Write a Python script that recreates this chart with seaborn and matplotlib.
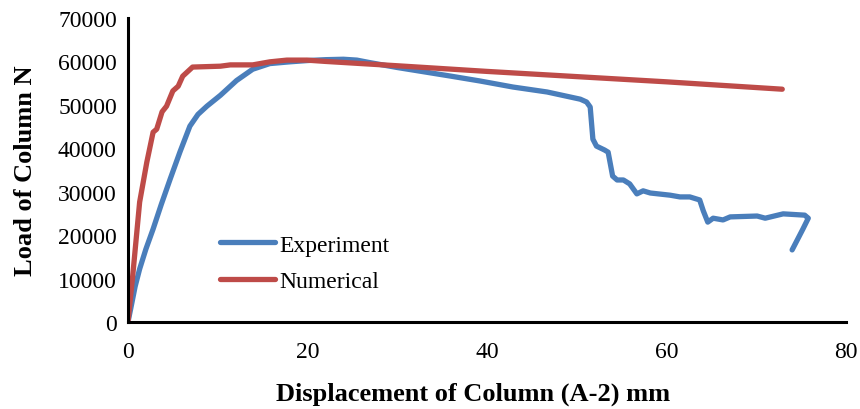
import matplotlib
matplotlib.use("Agg")
import matplotlib.pyplot as plt
import seaborn as sns
import pandas as pd

exp_x = [0, 0.3, 0.8, 1.3, 2.0, 2.8, 3.7, 4.7, 5.8, 6.9, 7.8, 8.8, 10.3, 12.1, 13.9, 15.8, 18,
         20, 22, 24, 25.5, 27, 30, 33, 36, 39.2, 42.9, 46.7, 50.4, 51.1, 51.5, 51.8, 52.2,
         53.1, 53.5, 54.0, 54.5, 55.2, 55.9, 56.7, 57.4, 58.2, 60.4, 61.5, 62.6, 63.7,
         64.1, 64.6, 65.2, 66.3, 67.1, 70.1, 71.0, 73.0, 75.4, 75.8, 75.2, 74.0]
exp_y = [0, 3000, 8200, 12200, 16800, 21400, 27000, 32900, 39200, 45100, 47800, 49700,
         52200, 55600, 58200, 59500, 59900, 60200, 60400, 60500, 60300, 59700, 58600,
         57600, 56600, 55500, 54100, 52960, 51300, 50650, 49500, 42100, 40500, 39600,
         39100, 33600, 32700, 32700, 31800, 29500, 30200, 29700, 29200, 28800, 28800,
         28100, 25600, 23000, 23900, 23500, 24200, 24400, 23900, 24900, 24600, 23900,
         21400, 16600]

num_x = [0, 0.5, 1.3, 2.1, 2.8, 3.2, 3.8, 4.3, 5.0, 5.6, 6.1, 7.2, 10.3, 11.4, 13.9,
         15.8, 17.7, 19.9, 22, 30, 40, 50, 60, 72.9]
num_y = [0, 10000, 27600, 36800, 43700, 44400, 48400, 49700, 53200, 54300, 56600, 58700,
         58900, 59200, 59200, 59900, 60300, 60300, 60000, 59000, 57700, 56500, 55300, 53600]

x_ticks = [0, 20, 40, 60, 80]
y_ticks = [0, 10000, 20000, 30000, 40000, 50000, 60000, 70000]

sns.set_style("white")
plt.rcParams['font.family'] = ['Liberation Serif', 'DejaVu Serif']
plt.rcParams['text.color'] = 'black'
plt.rcParams['axes.labelcolor'] = 'black'

df_exp = pd.DataFrame({"x": exp_x, "y": exp_y, "s": "Experiment"})
df_num = pd.DataFrame({"x": num_x, "y": num_y, "s": "Numerical"})

fig = plt.figure(figsize=(8.6, 4.1), dpi=100)
ax = fig.add_axes([0.1488, 0.2122, 0.8349, 0.7415])

line_kw = dict(sort=False, estimator=None, ax=ax, linewidth=3.8,
               solid_capstyle="round", solid_joinstyle="round")
sns.lineplot(data=df_exp, x="x", y="y", color="#4A7EBB", label="Experiment", **line_kw)
sns.lineplot(data=df_num, x="x", y="y", color="#BE4B48", label="Numerical", **line_kw)

ax.set_xlim(0, 80)
ax.set_ylim(0, 70000)
ax.set_xticks(x_ticks)
ax.set_yticks(y_ticks)
ax.set_xticklabels([str(v) for v in x_ticks])
ax.set_yticklabels([str(v) for v in y_ticks])

for s in ["top", "right"]:
    ax.spines[s].set_visible(False)
for s in ["left", "bottom"]:
    ax.spines[s].set_color("black")
    ax.spines[s].set_linewidth(2.2)

ax.tick_params(axis="x", direction="out", length=6, width=1.5, colors="black",
               labelsize=17, pad=8)
ax.tick_params(axis="y", direction="in", length=6, width=1.5, colors="black",
               labelsize=17, pad=8)

ax.set_xlabel("Displacement of Column (A-2) mm", fontsize=19, fontweight="bold", color="black")
ax.set_ylabel("Load of Column N", fontsize=19, fontweight="bold", color="black")
ax.xaxis.set_label_coords(0.48, -0.197)
ax.yaxis.set_label_coords(-0.127, 0.5)

leg = ax.legend(loc="upper left", bbox_to_anchor=(0.128, 0.289), frameon=False,
                borderpad=0, borderaxespad=0,
                fontsize=17, handlelength=2.35, labelspacing=0.62, handletextpad=0.15)
for h in leg.get_lines():
    h.set_solid_capstyle("round")
for t in leg.get_texts():
    t.set_color("black")

fig.savefig("out.png", dpi=100)
